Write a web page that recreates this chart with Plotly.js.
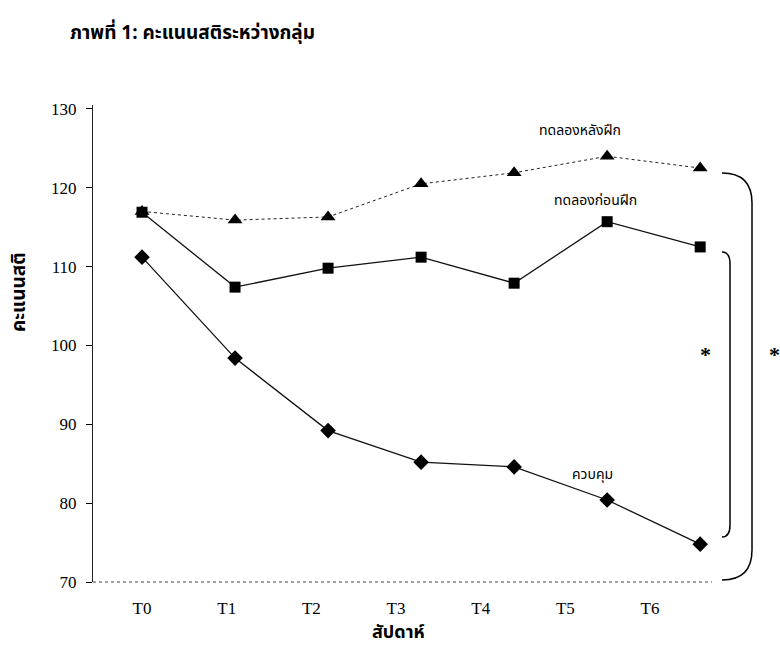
<!DOCTYPE html>
<html>
<head>
<meta charset="utf-8">
<script src="https://cdn.plot.ly/plotly-3.0.1.min.js"></script>
<style>html,body{margin:0;padding:0;background:#fff;}#chart{width:780px;height:645px;}</style>
</head>
<body>
<div id="chart"></div>
<script>
const weeks = ["T0", "T1", "T2", "T3", "T4", "T5", "T6"];
const postTraining = [117.0, 115.9, 116.3, 120.5, 121.9, 124.0, 122.5];
const preTraining = [116.9, 107.4, 109.8, 111.2, 107.9, 115.7, 112.5];
const control = [111.2, 98.4, 89.2, 85.2, 84.6, 80.4, 74.8];
const yTicks = [70, 80, 90, 100, 110, 120, 130];
const seriesNames = ["ทดลองหลังฝึก", "ทดลองก่อนฝึก", "ควบคุม"];
const chartTitle = "ภาพที่ 1: คะแนนสติระหว่างกลุ่ม";
const yTitle = "คะแนนสติ";
const xTitle = "สัปดาห์";

const THAI = "Noto Sans Thai, Noto Sans Thai UI, Loma, Garuda, Tlwg Typo, Noto Sans, sans-serif";
const SERIF = "Liberation Serif, Times New Roman, serif";

// pixel -> paper helpers (plot area: x 93..756, y 105..582)
const L = 93, W = 663, B = 582, H = 477;
const px = x => (x - L) / W;
const py = y => (B - y) / H;

const traces = [
  {x: weeks, y: weeks.map(() => null), xaxis: "x2", yaxis: "y", type: "scatter", mode: "markers",
   showlegend: false, hoverinfo: "skip", marker: {opacity: 0}},
  {x: weeks, y: postTraining, name: seriesNames[0], type: "scatter", mode: "lines+markers",
   line: {color: "#222", width: 1, dash: "dot"},
   marker: {symbol: "triangle-up", size: 13, color: "#000"}},
  {x: weeks, y: preTraining, name: seriesNames[1], type: "scatter", mode: "lines+markers",
   line: {color: "#111", width: 1.3},
   marker: {symbol: "square", size: 11, color: "#000"}},
  {x: weeks, y: control, name: seriesNames[2], type: "scatter", mode: "lines+markers",
   line: {color: "#111", width: 1.3},
   marker: {symbol: "diamond", size: 12, color: "#000"}}
];

const outer = `M ${px(722)},${py(173)} Q ${px(752)},${py(173)} ${px(752)},${py(203)} L ${px(752)},${py(550)} Q ${px(752)},${py(580)} ${px(722)},${py(580)}`;
const inner = `M ${px(722)},${py(252)} Q ${px(730)},${py(252)} ${px(730)},${py(264)} L ${px(730)},${py(525)} Q ${px(730)},${py(537)} ${px(722)},${py(537)}`;

const layout = {
  width: 780, height: 645,
  margin: {l: L, r: 780 - L - W, t: B - H, b: 645 - B, pad: 0},
  paper_bgcolor: "#fff", plot_bgcolor: "rgba(0,0,0,0)",
  showlegend: false,
  xaxis: {type: "category", range: [-0.527, 6.6], showticklabels: false, ticks: "",
          showline: false, showgrid: false, zeroline: false, fixedrange: true},
  xaxis2: {type: "category", domain: [0.0101, 0.904], anchor: "y", range: [-0.5, 6.5],
           showline: false, showgrid: false, zeroline: false, ticks: "",
           ticklabelstandoff: 14,
           tickfont: {family: SERIF, size: 17, color: "#000"}},
  yaxis: {range: [70, 130.5], tickvals: yTicks, ticktext: yTicks.map(String),
          ticks: "outside", ticklen: 6, tickcolor: "#000", tickwidth: 1,
          showline: true, linecolor: "#222", linewidth: 1,
          showgrid: false, zeroline: false, ticklabelstandoff: 6,
          tickfont: {family: SERIF, size: 17, color: "#000"}},
  shapes: [
    {type: "line", xref: "paper", yref: "paper", x0: 0, x1: px(712), y0: 0, y1: 0,
     line: {color: "#444", width: 1, dash: "dot"}},
    {type: "path", xref: "paper", yref: "paper", path: outer, line: {color: "#000", width: 1.5}},
    {type: "path", xref: "paper", yref: "paper", path: inner, line: {color: "#000", width: 1.5}}
  ],
  annotations: [
    {text: "<b>" + chartTitle + "</b>", xref: "paper", yref: "paper", x: px(68), y: py(33),
     xanchor: "left", yanchor: "middle", showarrow: false, font: {family: THAI, size: 19, color: "#000"}},
    {text: "<b>" + yTitle + "</b>", xref: "paper", yref: "paper", x: px(19), y: py(292),
     xanchor: "center", yanchor: "middle", textangle: -90, showarrow: false,
     font: {family: THAI, size: 19, color: "#000"}},
    {text: "<b>" + xTitle + "</b>", xref: "paper", yref: "paper", x: px(398), y: py(632),
     xanchor: "center", yanchor: "middle", showarrow: false, font: {family: THAI, size: 18, color: "#000"}},
    {text: seriesNames[0], xref: "paper", yref: "paper", x: px(580), y: py(131),
     xanchor: "center", yanchor: "middle", showarrow: false, font: {family: THAI, size: 14, color: "#000"}},
    {text: seriesNames[1], xref: "paper", yref: "paper", x: px(595), y: py(200),
     xanchor: "center", yanchor: "middle", showarrow: false, font: {family: THAI, size: 14, color: "#000"}},
    {text: seriesNames[2], xref: "paper", yref: "paper", x: px(592), y: py(474),
     xanchor: "center", yanchor: "middle", showarrow: false, font: {family: THAI, size: 14, color: "#000"}},
    {text: "<b>*</b>", xref: "paper", yref: "paper", x: px(705), y: py(354),
     xanchor: "center", yanchor: "middle", showarrow: false, font: {family: SERIF, size: 22, color: "#000"}},
    {text: "<b>*</b>", xref: "paper", yref: "paper", x: px(775), y: py(354),
     xanchor: "center", yanchor: "middle", showarrow: false, font: {family: SERIF, size: 22, color: "#000"}}
  ]
};

Plotly.newPlot("chart", traces, layout, {staticPlot: true, displayModeBar: false});
</script>
</body>
</html>
